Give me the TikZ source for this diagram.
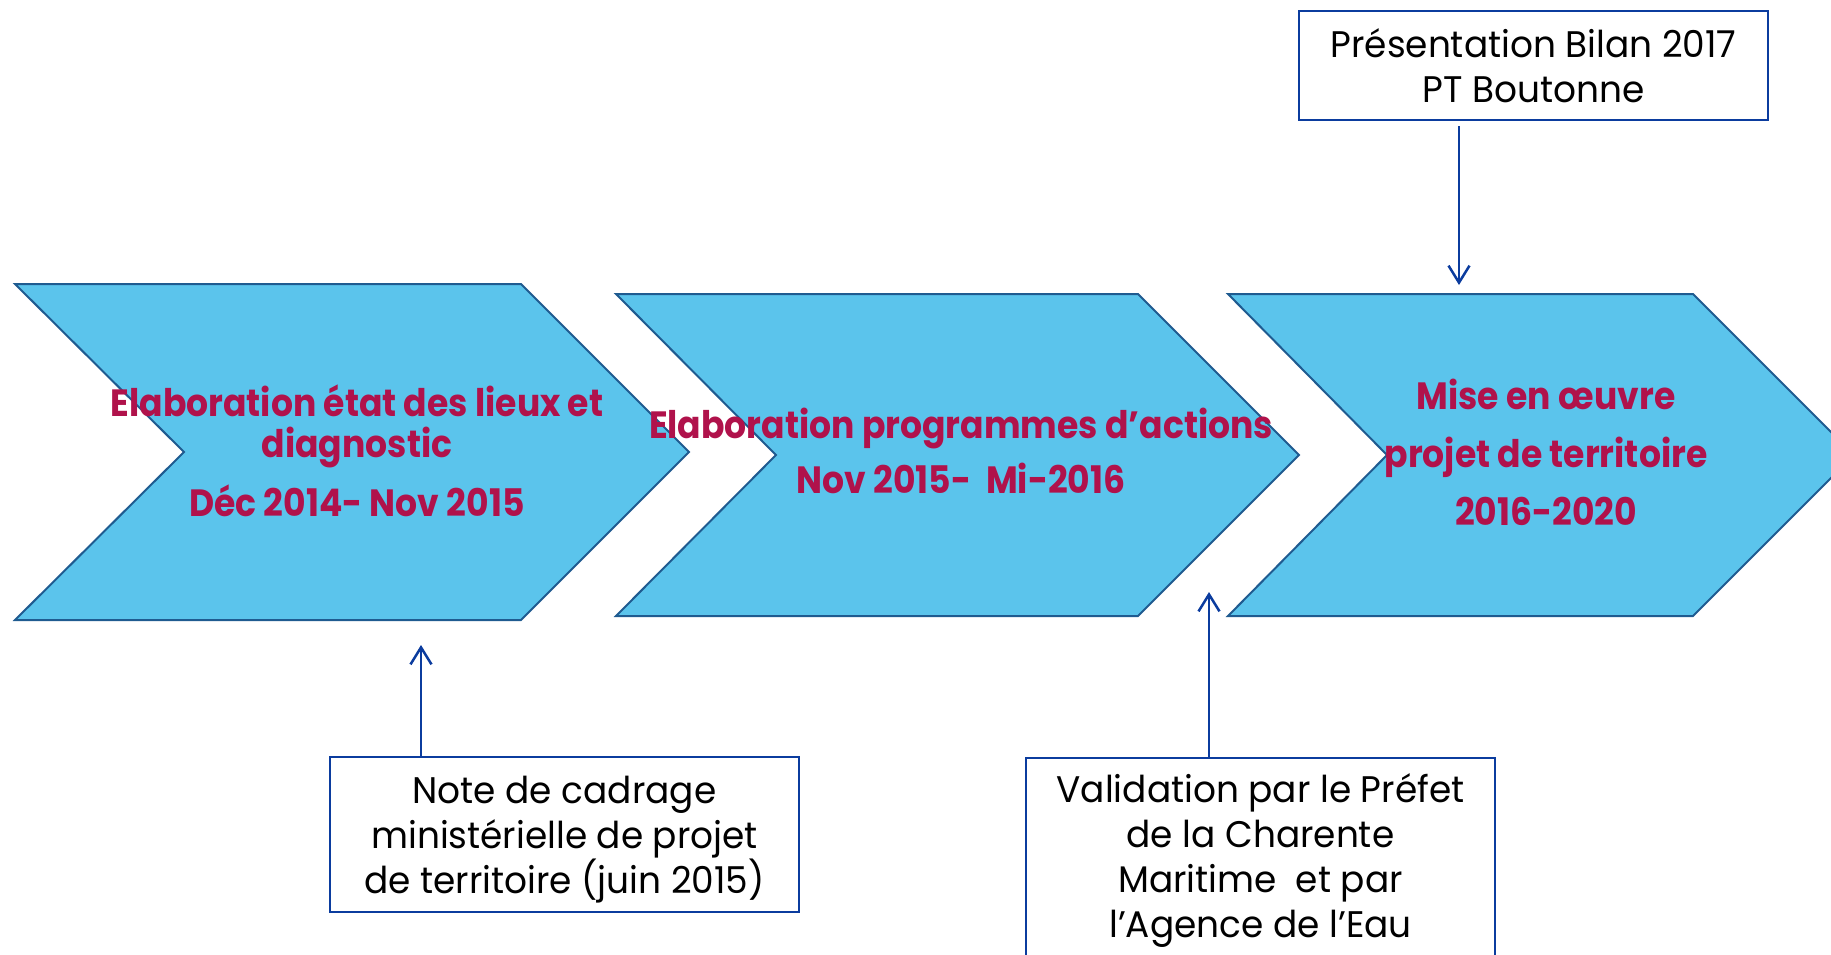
\documentclass[tikz,border=0pt]{standalone}
\usepackage{fontspec}
\setmainfont{Poppins}[FakeStretch=0.97,BoldFeatures={FakeStretch=0.91}]
\usepackage{tikz}
\usetikzlibrary{
	arrows.meta
}
\definecolor{phasefill}{HTML}{5BC4EC}
\definecolor{phaseline}{HTML}{1F5B90}
\definecolor{phasetxt}{HTML}{B0124B}
\definecolor{noteline}{HTML}{0B3C9E}
\tikzset{
	phase/.style={fill=phasefill,draw=phaseline,line width=2pt},
	phasetext/.style={text=phasetxt,align=center,inner sep=0pt,
		font=\fontsize{38}{41}\selectfont\bfseries},
	note/.style={draw=noteline,line width=2pt,align=center,inner sep=0pt,
		minimum width=469,minimum height=155,font=\fontsize{37}{45}\selectfont},
	link/.style={draw=noteline,line width=2.5pt,-{Straight Barb[length=17pt,width=21pt,line width=2.5pt]}}
}

\begin{document}
\begin{tikzpicture}[x=1pt,y=-1pt]
		\clip (0,0) rectangle (1831,954);

		\draw[phase] (15,284) -- (521,284) -- (689,452) -- (521,620) -- (15,620) -- (184,452) -- cycle;
		\draw[phase] (616,294) -- (1138,294) -- (1299,455) -- (1138,616) -- (616,616) -- (776,455) -- cycle;
		\draw[phase] (1228,294) -- (1693,294) -- (1854,455) -- (1693,616) -- (1228,616) -- (1387,455) -- cycle;

		\node[phasetext] (etat)   at (357,451) {Elaboration état des lieux et\\ diagnostic\\[16pt] Déc 2014- Nov 2015};
		\node[phasetext] (progr)  at (961,451) {Elaboration programmes d’actions\\[14pt] Nov 2015-~~Mi-2016};
		\node[phasetext] (oeuvre) at (1546,452) {Mise en œuvre\\[17pt] projet de territoire\\[17pt] 2016-2020};

		\node[note,text depth=0pt] (cadrage) at (564.5,834.5) {Note de cadrage\\ ministérielle de projet\\ de territoire (juin 2015)};
		\node[note,anchor=north,minimum height=206] (valid) at (1260.5,757) {Validation par le Préfet\\ de la Charente\\ Maritime~ et par\\ l’Agence de l’Eau};
		\node[note,minimum height=109] (bilan) at (1533.5,65.5) {Présentation Bilan 2017\\ PT Boutonne};

		\coordinate (etat-in)   at (421,645);
		\coordinate (valid-in)  at (1209,592);
		\coordinate (oeuvre-in) at (1459,285);

		\draw[link] (cadrage.north -| etat-in) -- (etat-in);
		\draw[link] (valid.north -| valid-in) -- (valid-in);
		\draw[link] ([yshift=-5pt]bilan.south -| oeuvre-in) -- (oeuvre-in);
\end{tikzpicture}
\end{document}
